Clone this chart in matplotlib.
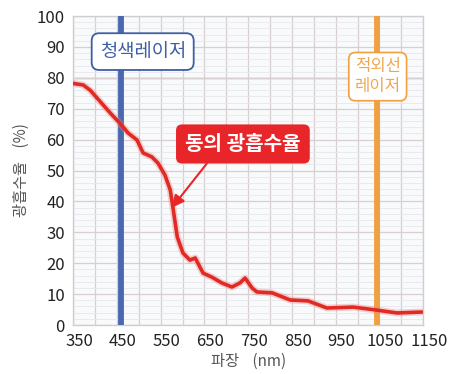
import numpy as np
import matplotlib.pyplot as plt
from matplotlib.ticker import MultipleLocator
from matplotlib.transforms import ScaledTranslation

plt.rcParams['font.family'] = ['Noto Sans CJK KR', 'DejaVu Sans']

# 파장 (nm) / 광흡수율 (%)
wavelength = [350, 373, 389, 412, 435, 457, 476, 496, 510, 530, 544, 560, 572, 579,
              588, 601, 617, 629, 647, 667, 690, 713, 731, 743, 759, 770, 805, 846,
              887, 930, 990, 1040, 1090, 1147]
absorption = [78.2, 77.7, 76.0, 72.3, 68.6, 65.3, 62.1, 59.9, 55.7, 54.4, 52.4, 48.5,
              43.7, 37.2, 28.5, 23.3, 21.0, 21.7, 16.8, 15.5, 13.6, 12.3, 13.6, 15.2,
              12.0, 10.7, 10.4, 8.1, 7.8, 5.5, 5.8, 4.9, 3.9, 4.2]
xticks = [350, 450, 550, 650, 750, 850, 950, 1050, 1150]
yticks = list(range(0, 101, 10))
blue_laser = 459
ir_laser = 1044

fig = plt.figure(figsize=(4.57, 3.74), dpi=100)
ax = fig.add_axes([0.160, 0.131, 0.766, 0.826])
ax.set_facecolor('#f8fafc')

ax.set_xlim(350, 1150)
ax.set_ylim(0, 100)
ax.set_xticks(xticks)
ax.set_yticks(yticks)
ax.xaxis.set_minor_locator(MultipleLocator(50))
ax.yaxis.set_minor_locator(MultipleLocator(2))
ax.grid(which='major', color='#d8d0d0', lw=0.9)
ax.grid(which='minor', axis='y', color='#e6e8ec', lw=0.6)
ax.grid(which='minor', axis='x', color='#d8d0d0', lw=0.9)
ax.axhline(80, color='#b8b4b4', lw=1.0, zorder=1)
ax.tick_params(which='both', length=0)
ax.tick_params(labelsize=12, colors='#222222', pad=6)
for lab in ax.get_xticklabels():
    lab.set_transform(lab.get_transform() + ScaledTranslation(0.06, 0, fig.dpi_scale_trans))
for s in ax.spines.values():
    s.set_color('#cfcfcf')
    s.set_linewidth(1.0)

ax.axvline(blue_laser, color='#4a68b0', lw=4.2, zorder=3)
ax.axvline(ir_laser, color='#f0a040', lw=4.2, zorder=3)

ax.plot(wavelength, absorption, color='#f08080', lw=5, alpha=0.35, zorder=4,
        solid_capstyle='round', solid_joinstyle='round')
ax.plot(wavelength, absorption, color='#e02a24', lw=2.6, zorder=5,
        solid_capstyle='round', solid_joinstyle='round')

ax.text(509, 88.5, '청색레이저', ha='center', va='center', fontsize=13.5,
        color='#3d5fa6', zorder=6,
        bbox=dict(boxstyle='round,pad=0.42,rounding_size=0.4', fc='white',
                  ec='#3d5fa6', lw=1.3))
ax.text(1046, 80.4, '적외선\n레이저', ha='center', va='center', fontsize=12,
        color='#f0a850', zorder=6, linespacing=1.2,
        bbox=dict(boxstyle='round,pad=0.35,rounding_size=0.4', fc='white',
                  ec='#f0a040', lw=1.2))

ax.annotate('동의 광흡수율', xy=(576, 38), xytext=(738, 58.6),
            ha='center', va='center', fontsize=14.5, fontweight='bold',
            color='white', zorder=7,
            bbox=dict(boxstyle='round,pad=0.45,rounding_size=0.3', fc='#e8262a',
                      ec='none'),
            arrowprops=dict(arrowstyle='-|>', color='#e8262a', lw=1.5,
                            mutation_scale=18, shrinkA=0, shrinkB=0,
                            relpos=(0.25, 0)))

ax.set_xlabel('파장    (nm)', fontsize=11, color='#555555', labelpad=2)
ax.set_ylabel('광흡수율    (%)', fontsize=11, color='#555555', labelpad=4)
ax.yaxis.set_label_coords(-0.125, 0.5)

fig.savefig('out.png', dpi=100)
